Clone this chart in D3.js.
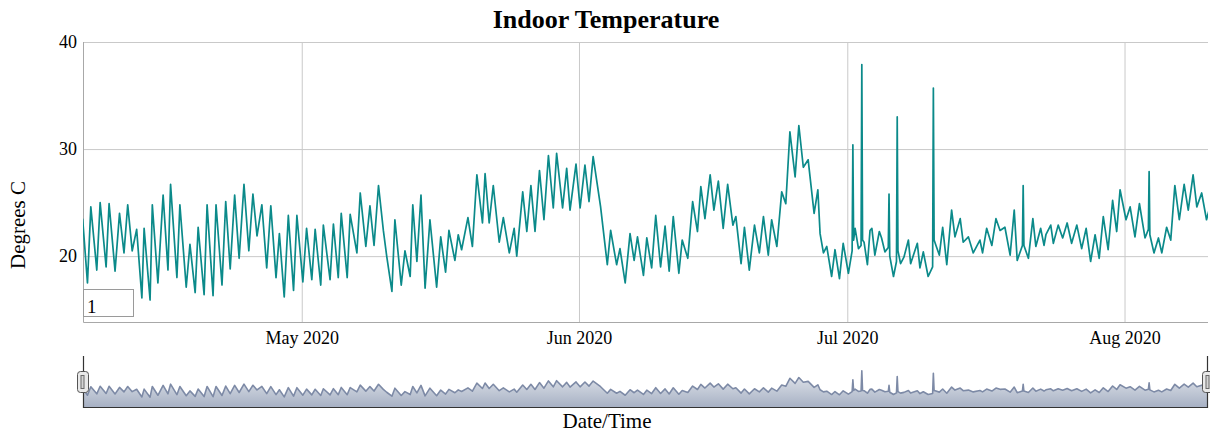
<!DOCTYPE html>
<html>
<head>
<meta charset="utf-8">
<script src="https://cdn.jsdelivr.net/npm/d3@7/dist/d3.min.js"></script>
<style>
  body { margin: 0; background: #fff; }
  svg { font-family: "Liberation Serif", "Times New Roman", serif; }
  .tick text { font-size: 18px; fill: #000; }
  .axis-label { font-size: 21px; fill: #000; }
  .title { font-size: 26px; font-weight: bold; fill: #000; }
</style>
</head>
<body>
<svg class="chart"></svg>
<script>
// readings: hours after 6 Apr 2020 00:00, and the temperature at that hour
const START = new Date(2020, 3, 6);
const HOURS = [
  12, 25, 34, 50, 59, 75, 83, 99, 111, 123, 133, 145, 157, 171, 177, 193, 199, 214, 228, 241,
  248, 265, 273, 290, 300, 314, 322, 338, 346, 362, 370, 386, 396, 408, 420, 432, 445, 458, 469, 480,
  493, 506, 517, 531, 540, 553, 564, 578, 587, 603, 613, 627, 636, 651, 658, 676, 685, 698, 706, 722,
  730, 748, 757, 772, 783, 794, 806, 819, 828, 842, 850, 867, 877, 891, 898, 909, 920, 931, 944, 962,
  973, 986, 995, 1011, 1020, 1029, 1046, 1058, 1070, 1085, 1092, 1103, 1114, 1130, 1141, 1157, 1170, 1177, 1193, 1204,
  1215, 1226, 1238, 1250, 1262, 1275, 1284, 1300, 1311, 1320, 1336, 1347, 1360, 1371, 1382, 1402, 1420, 1429, 1445, 1454,
  1468, 1481, 1492, 1501, 1517, 1526, 1539, 1550, 1563, 1575, 1586, 1597, 1612, 1621, 1636, 1649, 1662, 1671, 1682, 1696,
  1706, 1718, 1731, 1743, 1757, 1765, 1779, 1788, 1801, 1815, 1828, 1839, 1852, 1861, 1875, 1888, 1899, 1910, 1924, 1934,
  1946, 1959, 1975, 1985, 1991, 2000, 2009, 2022, 2031, 2043, 2053, 2067, 2077, 2079, 2081, 2085, 2094, 2101, 2103, 2105,
  2109, 2118, 2125, 2130, 2138, 2150, 2156, 2165, 2174, 2176, 2178, 2188, 2196, 2198, 2200, 2207, 2216, 2228, 2234, 2252,
  2259, 2268, 2281, 2293, 2295, 2297, 2302, 2311, 2320, 2331, 2344, 2353, 2367, 2375, 2389, 2402, 2420, 2427, 2438, 2452,
  2463, 2474, 2487, 2501, 2512, 2520, 2534, 2536, 2538, 2550, 2562, 2570, 2583, 2592, 2597, 2610, 2617, 2630, 2642, 2654,
  2666, 2680, 2693, 2705, 2717, 2729, 2740, 2751, 2764, 2776, 2787, 2796, 2812, 2823, 2836, 2848, 2863, 2872, 2874, 2876,
  2887, 2899, 2908, 2921, 2932, 2943, 2955, 2968, 2979, 2992, 3002, 3015, 3028, 3037
];
const TEMPS = [
  23.5, 17.5, 24.6, 18.7, 25.0, 19.0, 24.9, 18.6, 24.0, 20.3, 24.8, 20.5, 22.5, 16.1, 22.6, 15.9, 24.8, 17.5, 25.7, 18.7,
  26.7, 18.0, 24.8, 17.1, 21.1, 16.6, 22.7, 16.4, 24.8, 16.3, 24.8, 17.3, 25.1, 18.8, 25.7, 19.8, 26.7, 20.5, 25.8, 21.9,
  24.8, 18.9, 24.7, 18.0, 22.1, 16.2, 23.8, 16.8, 23.8, 17.6, 22.6, 17.8, 22.5, 17.3, 22.9, 17.8, 23.0, 18.0, 24.0, 18.0,
  23.9, 20.3, 25.9, 20.9, 24.7, 21.0, 26.6, 22.4, 20.0, 16.7, 23.4, 17.3, 20.5, 18.1, 24.8, 19.5, 25.7, 17.0, 23.4, 17.1,
  21.8, 18.5, 22.4, 19.6, 22.0, 20.6, 23.6, 20.9, 27.6, 23.1, 27.7, 23.1, 26.6, 21.3, 23.6, 20.3, 22.6, 20.0, 26.0, 22.3,
  26.6, 22.3, 28.0, 23.4, 29.4, 24.5, 29.6, 24.5, 28.2, 24.3, 28.6, 24.5, 28.5, 25.1, 29.3, 24.6, 19.2, 22.4, 19.2, 20.7,
  17.5, 22.1, 19.6, 21.8, 18.2, 21.7, 18.9, 23.8, 19.0, 22.8, 18.6, 23.7, 18.4, 21.5, 19.8, 25.1, 22.3, 26.5, 23.5, 27.6,
  24.3, 27.0, 22.6, 26.7, 22.9, 23.7, 19.3, 22.7, 18.7, 22.9, 20.3, 23.7, 20.1, 23.4, 20.9, 26.0, 24.9, 31.6, 27.4, 32.2,
  28.3, 29.0, 24.0, 26.2, 22.1, 20.3, 20.9, 18.1, 20.6, 17.9, 21.2, 18.4, 20.5, 30.4, 21.5, 22.6, 20.7, 21.0, 37.9, 21.5,
  21.3, 19.2, 22.4, 22.6, 20.1, 22.3, 21.7, 20.4, 20.8, 25.8, 20.0, 18.1, 19.5, 33.0, 20.5, 19.3, 19.9, 21.5, 19.3, 21.2,
  18.9, 20.4, 18.1, 19.0, 35.7, 21.5, 21.0, 20.1, 22.7, 19.2, 24.3, 21.8, 23.5, 21.3, 21.8, 20.3, 21.5, 20.3, 22.6, 21.0,
  23.5, 22.4, 22.7, 20.1, 24.3, 19.6, 21.0, 26.6, 21.0, 19.8, 23.5, 20.9, 22.6, 21.0, 22.0, 22.9, 21.2, 22.9, 21.7, 23.1,
  21.2, 22.9, 20.7, 22.6, 19.5, 22.0, 19.8, 23.7, 20.6, 25.2, 22.3, 26.2, 23.4, 24.6, 21.8, 24.9, 21.7, 22.5, 27.9, 22.0,
  20.3, 21.7, 20.3, 22.7, 21.5, 26.6, 23.4, 26.7, 24.3, 27.6, 24.6, 25.9, 23.4, 24.6
];
const Y_TICKS = [20, 30, 40];
const TITLE = "Indoor Temperature";
const Y_LABEL = "Degrees C";
const X_LABEL = "Date/Time";
const ROLL_PERIOD = "1";

const WIDTH = 1210;
const HEIGHT = 435;
const PLOT = { left: 83, right: 1208, top: 42, bottom: 322 };
const MINI = { top: 356, bottom: 407 };
const LINE_COLOR = "#0b8a8a";

const readings = HOURS.map((h, i) => ({ date: d3.timeHour.offset(START, h), temp: TEMPS[i] }));

let chart = d3.select(".chart")
              .attr("width", WIDTH)
              .attr("height", HEIGHT);

let x = d3.scaleTime()
          .domain([d3.timeHour.offset(START, 13), d3.timeHour.offset(START, 3032)])
          .range([PLOT.left, PLOT.right]);
let y = d3.scaleLinear().domain([13.85, 40]).range([PLOT.bottom, PLOT.top]);

// grid + tick labels
let yAxis = chart.append("g")
                 .attr("transform", `translate(${PLOT.left},0)`)
                 .call(d3.axisLeft(y).tickValues(Y_TICKS).tickSize(-(PLOT.right - PLOT.left)).tickPadding(6));
let xAxis = chart.append("g")
                 .attr("transform", `translate(0,${PLOT.bottom})`)
                 .call(d3.axisBottom(x)
                         .ticks(d3.timeMonth.every(1))
                         .tickFormat(d3.timeFormat("%b %Y"))
                         .tickSize(-(PLOT.bottom - PLOT.top))
                         .tickPadding(9));

[xAxis, yAxis].forEach(a => {
  a.select(".domain").remove();
  a.selectAll(".tick line").attr("stroke", "#c9c9c9");
  a.attr("font-family", null).attr("font-size", null);
});

chart.append("path")
     .attr("d", `M${PLOT.left + 0.5},${PLOT.top}V${PLOT.bottom + 0.5}H${PLOT.right}`)
     .attr("fill", "none")
     .attr("stroke", "#a8a8a8");

chart.append("clipPath").attr("id", "plot-clip")
     .append("rect")
     .attr("x", PLOT.left).attr("y", PLOT.top - 2)
     .attr("width", PLOT.right - PLOT.left).attr("height", PLOT.bottom - PLOT.top + 2);

chart.append("path")
     .datum(readings)
     .attr("clip-path", "url(#plot-clip)")
     .attr("fill", "none")
     .attr("stroke", LINE_COLOR)
     .attr("stroke-width", 1.7)
     .attr("stroke-linejoin", "round")
     .attr("d", d3.line().x(d => x(d.date)).y(d => y(d.temp)));

// roll period box
chart.append("rect")
     .attr("x", PLOT.left + 0.5).attr("y", 289.5)
     .attr("width", 50).attr("height", 27)
     .attr("fill", "#fff").attr("stroke", "#9a9a9a");
chart.append("text")
     .attr("x", PLOT.left + 4).attr("y", 313)
     .attr("font-size", 19)
     .text(ROLL_PERIOD);

// titles
chart.append("text")
     .attr("class", "title")
     .attr("x", 606).attr("y", 28)
     .attr("text-anchor", "middle")
     .text(TITLE);
chart.append("text")
     .attr("class", "axis-label")
     .attr("transform", "translate(25,225) rotate(-90)")
     .attr("text-anchor", "middle")
     .text(Y_LABEL);
chart.append("text")
     .attr("class", "axis-label")
     .attr("x", 607).attr("y", 428)
     .attr("text-anchor", "middle")
     .text(X_LABEL);

// range selector
const tMin = d3.min(TEMPS), tMax = d3.max(TEMPS), tRange = tMax - tMin;
let yMini = d3.scaleLinear()
              .domain([tMin - 0.37 * tRange, tMax + 0.554 * tRange])
              .range([MINI.bottom, MINI.top]);

let grad = chart.append("defs").append("linearGradient")
                .attr("id", "mini-fill")
                .attr("gradientUnits", "userSpaceOnUse")
                .attr("x1", 0).attr("x2", 0)
                .attr("y1", MINI.top).attr("y2", MINI.bottom);
grad.append("stop").attr("offset", 0).attr("stop-color", "#ffffff");
grad.append("stop").attr("offset", 1).attr("stop-color", "#a7b1c4");

chart.append("clipPath").attr("id", "mini-clip")
     .append("rect")
     .attr("x", PLOT.left).attr("y", MINI.top)
     .attr("width", PLOT.right - PLOT.left).attr("height", MINI.bottom - MINI.top);
let miniG = chart.append("g").attr("clip-path", "url(#mini-clip)");

miniG.append("path")
     .datum(readings)
     .attr("fill", "url(#mini-fill)")
     .attr("d", d3.area().x(d => x(d.date)).y0(MINI.bottom).y1(d => yMini(d.temp)));
miniG.append("path")
     .datum(readings)
     .attr("fill", "none")
     .attr("stroke", "#7d8aa6")
     .attr("stroke-width", 1.6)
     .attr("stroke-linejoin", "round")
     .attr("d", d3.line().x(d => x(d.date)).y(d => yMini(d.temp)));

chart.append("path")
     .attr("d", `M${PLOT.left + 0.5},${MINI.top}V${MINI.bottom + 0.5}H${PLOT.right - 0.5}V${MINI.top}`)
     .attr("fill", "none")
     .attr("stroke", "#333")
     .attr("stroke-width", 1.2);

[PLOT.left, PLOT.right].forEach(hx => {
  let h = chart.append("g").attr("transform", `translate(${hx},382)`);
  h.append("rect")
   .attr("x", -5.5).attr("y", -10.5)
   .attr("width", 11).attr("height", 21)
   .attr("rx", 3)
   .attr("fill", "#e9e9e9").attr("stroke", "#555");
  h.append("rect")
   .attr("x", -2).attr("y", -6.5)
   .attr("width", 3).attr("height", 13)
   .attr("fill", "#d4d4d4").attr("stroke", "#6a6a6a");
});
</script>
</body>
</html>
